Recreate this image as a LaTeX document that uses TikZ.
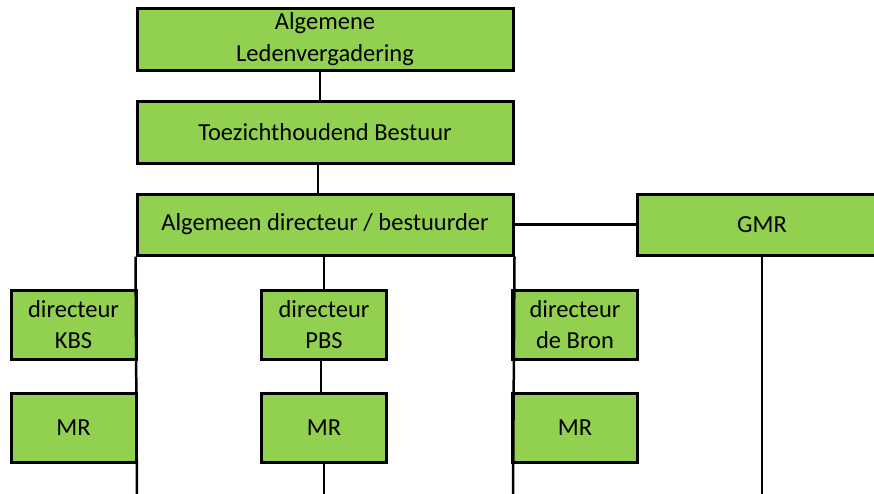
\documentclass[tikz,border=0pt]{standalone}
\usepackage{fontspec}
\setmainfont{Carlito}
\usepackage{xcolor}
\usetikzlibrary{positioning}

\definecolor{orggreen}{HTML}{92D050}
\tikzset{orgbox/.style={rectangle, draw, line width=3pt, fill=orggreen, align=center,
    inner sep=0pt, font=\fontsize{24.5}{31.5}\selectfont}}

\begin{document}
\begin{tikzpicture}[x=1pt,y=-1pt]
    \useasboundingbox (0,0) rectangle (874,493);
    \begin{scope}
        % Board levels
        \node[orgbox, minimum width=376pt, minimum height=62pt] (alv) at (325,39) {Algemene\\Ledenvergadering};
        \node[orgbox, minimum width=376pt, minimum height=62pt] (tb) at (325,132) {Toezichthoudend Bestuur};
        \node[orgbox, minimum width=376pt, minimum height=61pt] (ad) at (325,224.5) {Algemeen directeur / bestuurder};
        \node[orgbox, minimum width=250pt, minimum height=61pt] (gmr) at (762,224.5) {GMR};

        % School directors
        \node[orgbox, minimum width=125pt, minimum height=69pt] (kbs) at (73.5,324.5) {directeur\\KBS};
        \node[orgbox, minimum width=125pt, minimum height=69pt] (pbs) at (324,324.5) {directeur\\PBS};
        \node[orgbox, minimum width=125pt, minimum height=69pt] (bron) at (575,324.5) {directeur\\de Bron};

        % Participation councils
        \node[orgbox, minimum width=125pt, minimum height=69pt] (kbsmr) at (73.5,428) {MR};
        \node[orgbox, minimum width=125pt, minimum height=69pt] (pbsmr) at (324,428) {MR};
        \node[orgbox, minimum width=125pt, minimum height=69pt] (bronmr) at (575,428) {MR};

        % Line ends below the picture
        \coordinate (kbsend) at (137,500);
        \coordinate (pbsend) at (324,500);
        \coordinate (bronend) at (513,500);
        \coordinate (gmrend) at (762,500);

        % Connectors
        \draw[line width=1.5pt] ([xshift=-5pt]alv.south) -- ([xshift=-5pt]tb.north);
        \draw[line width=1.5pt] ([xshift=-7pt]tb.south) -- ([xshift=-7pt]ad.north);
        \draw[line width=3pt] (ad) -- (gmr);
        \draw[line width=2.5pt] (ad.south west) -- (kbsend);
        \draw[line width=2.5pt] (ad.south east) -- (bronend);
        \draw[line width=1.5pt] (ad.south -| pbs) -- (pbs);
        \draw[line width=1.5pt] ([xshift=-3pt]pbs.south) -- ([xshift=-3pt]pbsmr.north);
        \draw[line width=1.5pt] (pbsmr) -- (pbsend);
        \draw[line width=2.5pt] (gmr) -- (gmrend);
    \end{scope}
\end{tikzpicture}
\end{document}
